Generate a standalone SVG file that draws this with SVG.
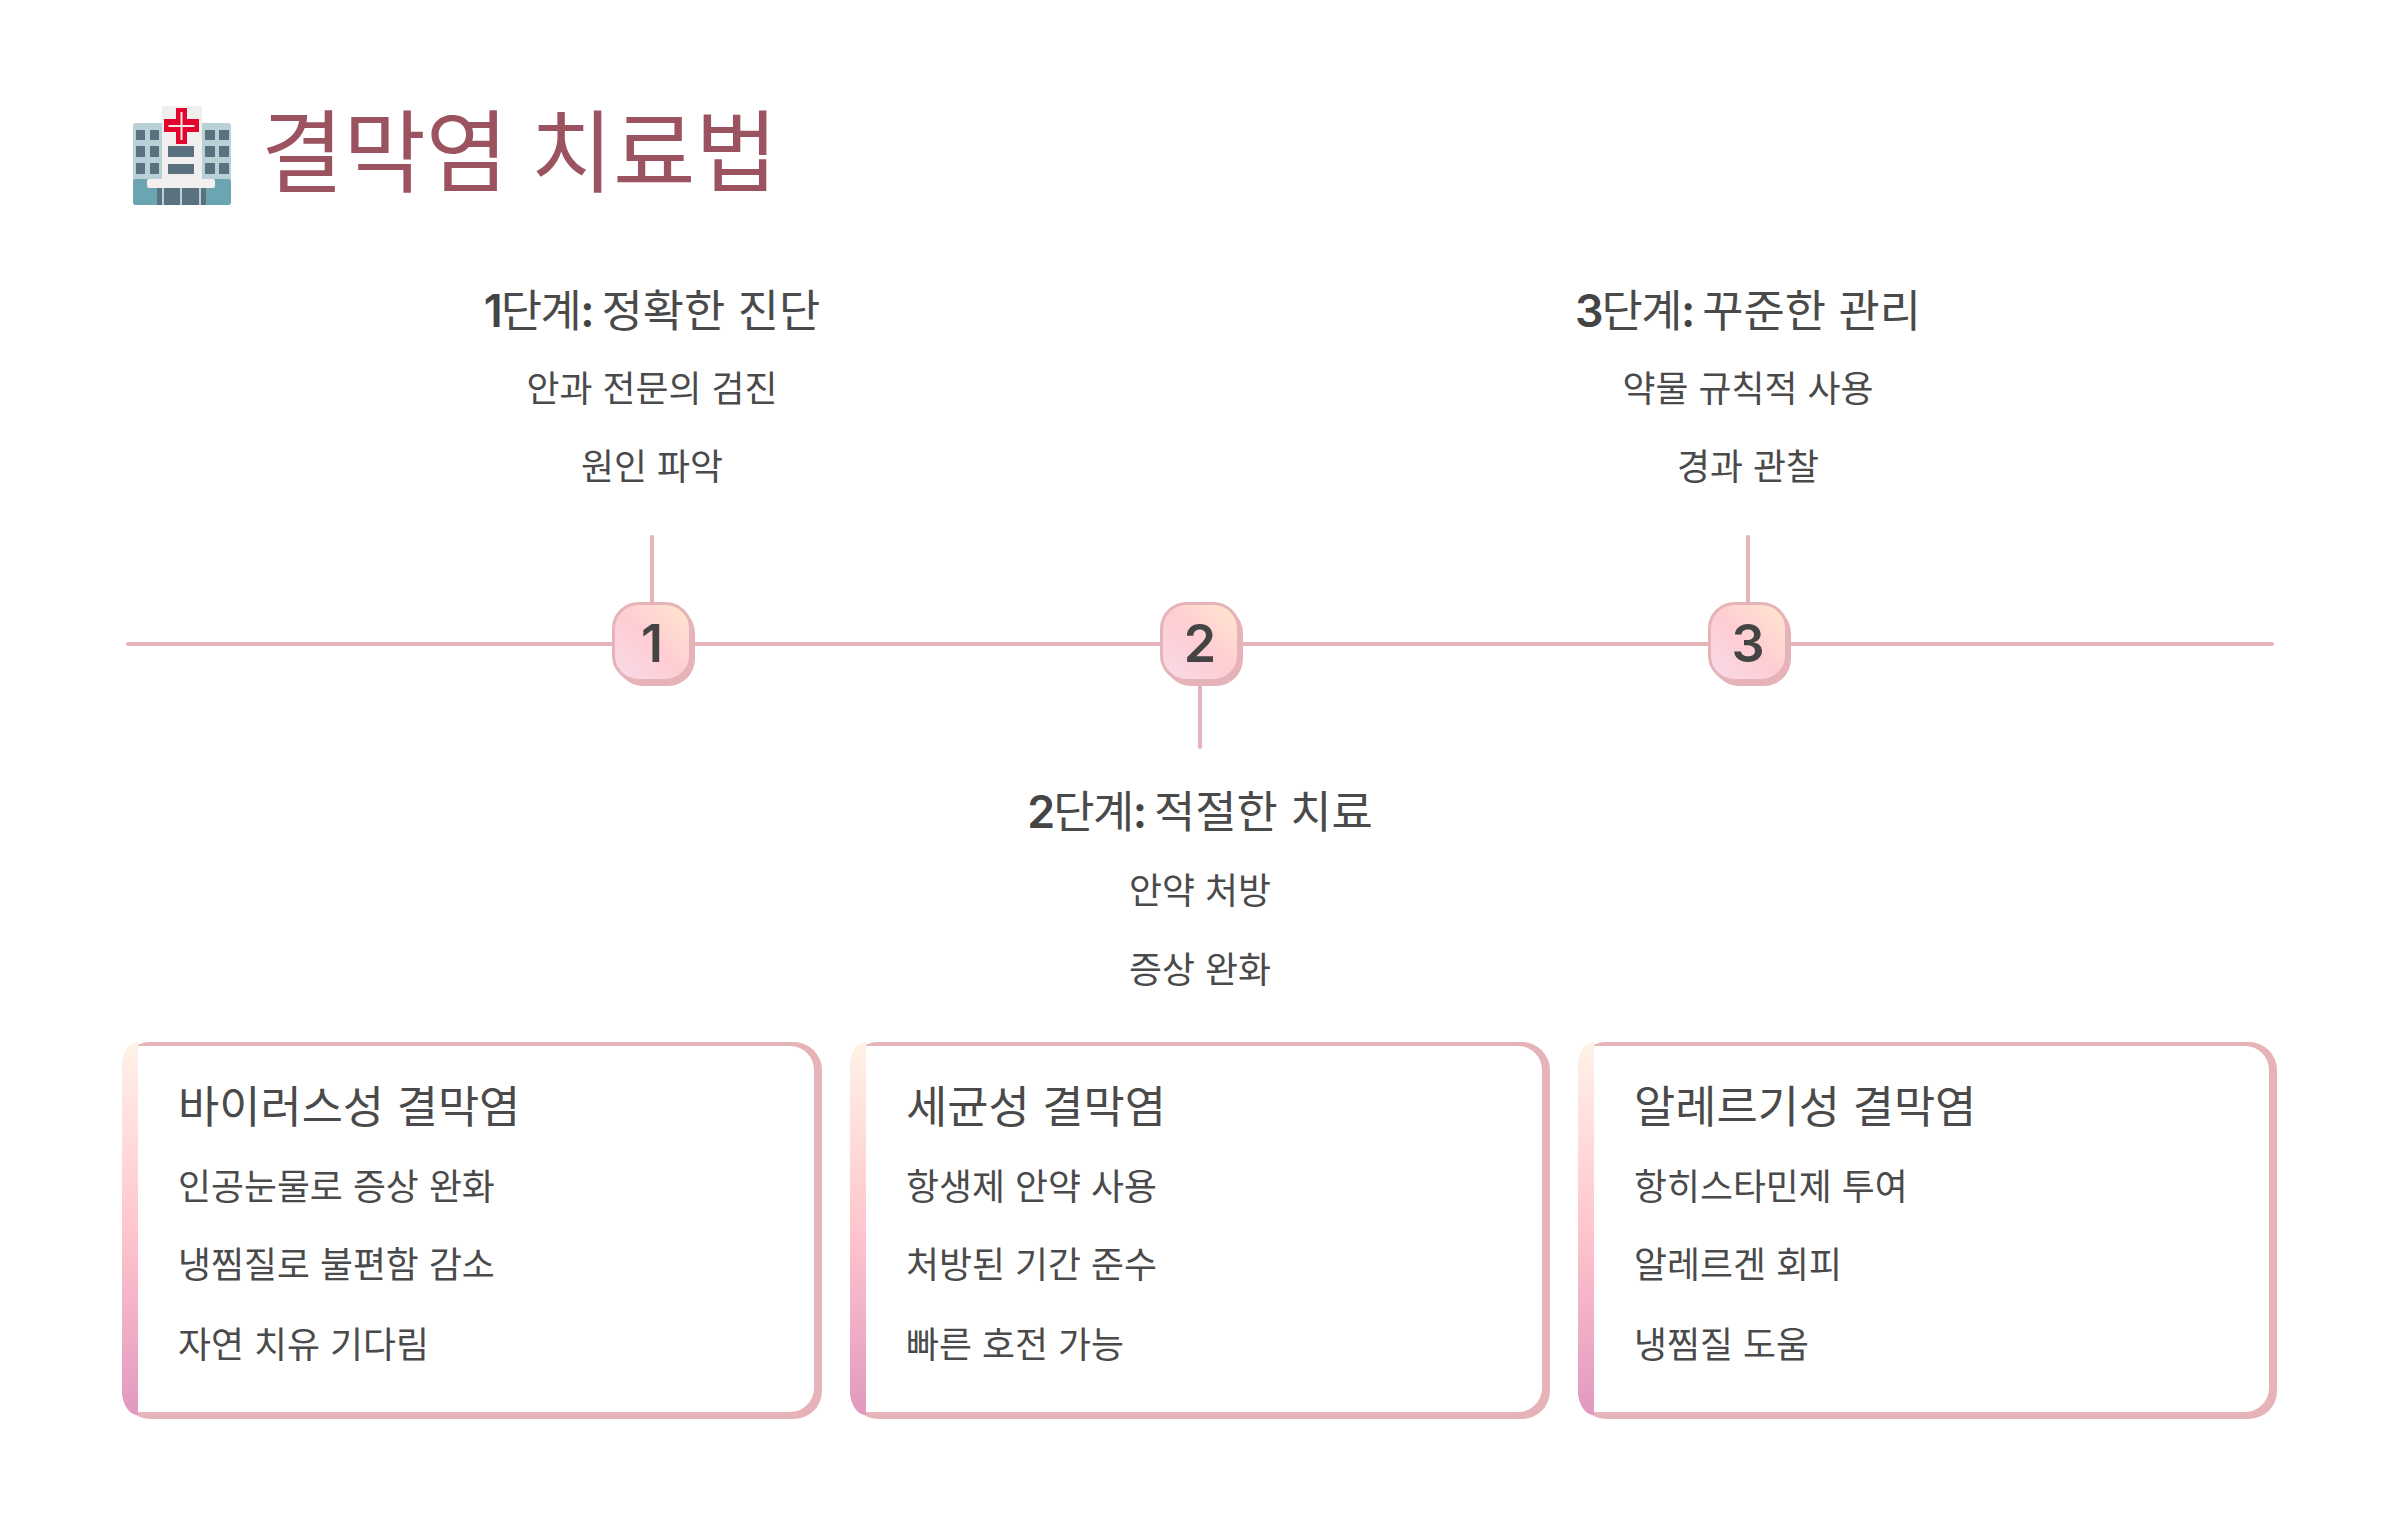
<svg xmlns="http://www.w3.org/2000/svg" width="2400" height="1514" viewBox="0 0 2400 1514">
<style>
text{font-family:"Inter","Noto Sans CJK KR","Noto Sans",sans-serif;fill:#444}
.t{font-size:89.6px;fill:#9b5360;word-spacing:-3px}
.h{font-size:44.8px;text-anchor:middle;fill:#4a4a4a}
.d{font-weight:600;fill:#444;letter-spacing:-2px}
.k{letter-spacing:-1.5px}
.c{font-weight:600;fill:#444;letter-spacing:-1.5px}
.s{letter-spacing:-4px}
.b{font-size:35.84px;text-anchor:middle;fill:#4a4a4a}
.ch{font-size:44.8px;fill:#4a4a4a}
.cb{font-size:35.84px;fill:#4a4a4a}
.n{font-size:52px;font-weight:600;text-anchor:middle;fill:#444}
.l{stroke:#e6b3b9;stroke-width:4;fill:none;stroke-linecap:round}
.sh{fill:#e6b3b9}
.bx{fill:url(#ng);stroke:#e6b3b9;stroke-width:3}
.o{fill:#e6b3b9}
.w{fill:#fff}
.g{fill:url(#cg)}
.win{fill:#5a7280}
</style>
<defs>
<linearGradient id="ng" x1="1" y1="0" x2="0" y2="1"><stop offset="0" stop-color="#ffe8cf"/><stop offset=".5" stop-color="#ffcdd2"/><stop offset="1" stop-color="#f6dbea"/></linearGradient>
<linearGradient id="cg" x1="0" y1="0" x2="0" y2="1"><stop offset="0" stop-color="#fff3e6"/><stop offset=".5" stop-color="#ffc6cd"/><stop offset="1" stop-color="#e199c0"/></linearGradient>
</defs>
<rect width="2400" height="1514" fill="#fff"/>
<g id="title">
<g id="emoji">
<rect x="133" y="123" width="98" height="82" rx="3" fill="#b9d0d6"/>
<rect x="133" y="179" width="98" height="26" rx="3" fill="#6ca5b2"/>
<rect x="162" y="106" width="40" height="76" rx="2" fill="#f1eeee"/>
<g class="win">
<rect x="136" y="130" width="9" height="10"/><rect x="150" y="130" width="9" height="10"/><rect x="136" y="146" width="9" height="11"/><rect x="150" y="146" width="9" height="11"/><rect x="136" y="163" width="9" height="11"/><rect x="150" y="163" width="9" height="11"/>
<rect x="205" y="130" width="10" height="10"/><rect x="219" y="130" width="10" height="10"/><rect x="205" y="146" width="10" height="11"/><rect x="219" y="146" width="10" height="11"/><rect x="205" y="163" width="10" height="11"/><rect x="219" y="163" width="10" height="11"/>
<rect x="168" y="146" width="26" height="11"/><rect x="168" y="164" width="26" height="10"/>
<rect x="157" y="186" width="49" height="19"/>
</g>
<rect x="162" y="188" width="2" height="17" fill="#b9d0d6"/><rect x="180" y="188" width="2" height="17" fill="#b9d0d6"/><rect x="199" y="188" width="2" height="17" fill="#b9d0d6"/>
<rect x="147" y="179" width="68" height="9" rx="2" fill="#f3efee"/>
<path d="M176 108h11v11h12v13h-12v12h-11v-12h-12v-13h12z" fill="#e2062c"/>
<path d="M180.500 112h2v13h12v2h-12v13h-2v-13h-12v-2h12z" fill="#f6e9ea"/>
</g>
<text class="t" x="261" y="185">결막염 치료법</text>
</g>
<g id="connectors">
<line class="l" x1="128" y1="644" x2="2272" y2="644"/>
<line class="l" x1="652" y1="537" x2="652" y2="606"/>
<line class="l" x1="1200" y1="682" x2="1200" y2="747"/>
<line class="l" x1="1748" y1="537" x2="1748" y2="606"/>
</g>
<g id="node-1">
<rect class="sh" x="616" y="606" width="79" height="80" rx="27"/>
<rect class="bx" x="613.500" y="603.500" width="77" height="77" rx="25"/>
<text class="n" x="652" y="662">1</text>
</g>
<g id="node-2">
<rect class="sh" x="1164" y="606" width="79" height="80" rx="27"/>
<rect class="bx" x="1161.500" y="603.500" width="77" height="77" rx="25"/>
<text class="n" x="1200" y="662">2</text>
</g>
<g id="node-3">
<rect class="sh" x="1712" y="606" width="79" height="80" rx="27"/>
<rect class="bx" x="1709.500" y="603.500" width="77" height="77" rx="25"/>
<text class="n" x="1748" y="662">3</text>
</g>
<g id="step-1">
<text class="h" x="652" y="327"><tspan class="d">1</tspan><tspan class="k">단계</tspan><tspan class="c">:</tspan><tspan class="s"> </tspan>정확한 진단</text>
<text class="b" x="652" y="402">안과 전문의 검진</text>
<text class="b" x="652" y="480">원인 파악</text>
</g>
<g id="step-3">
<text class="h" x="1748" y="327"><tspan class="d">3</tspan><tspan class="k">단계</tspan><tspan class="c">:</tspan><tspan class="s"> </tspan>꾸준한 관리</text>
<text class="b" x="1748" y="402">약물 규칙적 사용</text>
<text class="b" x="1748" y="480">경과 관찰</text>
</g>
<g id="step-2">
<text class="h" x="1200" y="828"><tspan class="d">2</tspan><tspan class="k">단계</tspan><tspan class="c">:</tspan><tspan class="s"> </tspan>적절한 치료</text>
<text class="b" x="1200" y="904">안약 처방</text>
<text class="b" x="1200" y="983">증상 완화</text>
</g>
<g id="card-1">
<rect class="o" x="122" y="1042" width="700" height="377" rx="28"/>
<path class="w" d="M138 1046H790a24 24 0 0 1 24 24V1388a24 24 0 0 1-24 24H138z"/>
<path class="g" d="M138 1042a16 24 0 0 0-16 24v325a16 24 0 0 0 16 24z"/>
<text class="ch" x="178" y="1123">바이러스성 결막염</text>
<text class="cb" x="178" y="1200">인공눈물로 증상 완화</text>
<text class="cb" x="178" y="1278">냉찜질로 불편함 감소</text>
<text class="cb" x="178" y="1358">자연 치유 기다림</text>
</g>
<g id="card-2">
<rect class="o" x="850" y="1042" width="700" height="377" rx="28"/>
<path class="w" d="M866 1046H1518a24 24 0 0 1 24 24V1388a24 24 0 0 1-24 24H866z"/>
<path class="g" d="M866 1042a16 24 0 0 0-16 24v325a16 24 0 0 0 16 24z"/>
<text class="ch" x="906" y="1123">세균성 결막염</text>
<text class="cb" x="906" y="1200">항생제 안약 사용</text>
<text class="cb" x="906" y="1278">처방된 기간 준수</text>
<text class="cb" x="906" y="1358">빠른 호전 가능</text>
</g>
<g id="card-3">
<rect class="o" x="1578" y="1042" width="699" height="377" rx="28"/>
<path class="w" d="M1594 1046H2245a24 24 0 0 1 24 24V1388a24 24 0 0 1-24 24H1594z"/>
<path class="g" d="M1594 1042a16 24 0 0 0-16 24v325a16 24 0 0 0 16 24z"/>
<text class="ch" x="1634" y="1123">알레르기성 결막염</text>
<text class="cb" x="1634" y="1200">항히스타민제 투여</text>
<text class="cb" x="1634" y="1278">알레르겐 회피</text>
<text class="cb" x="1634" y="1358">냉찜질 도움</text>
</g>
</svg>
